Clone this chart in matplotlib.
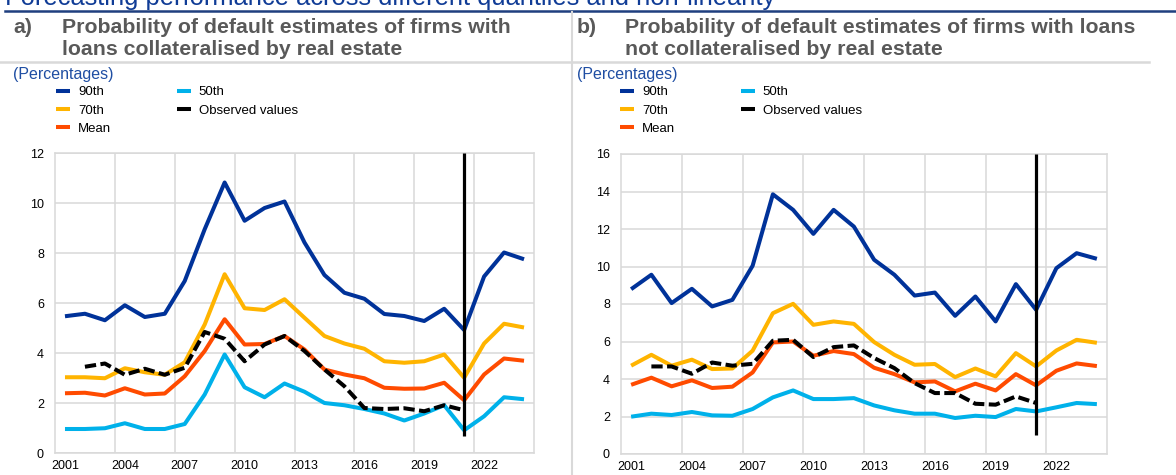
import numpy as np
import matplotlib
matplotlib.use('Agg')
import matplotlib.pyplot as plt
from matplotlib.lines import Line2D

plt.rcParams['font.family'] = ['Liberation Sans', 'DejaVu Sans']

# ================= data =================
years = list(range(2001, 2025))
obs_years = list(range(2002, 2022))
xtick_years = [2001, 2004, 2007, 2010, 2013, 2016, 2019, 2022]

# panel a: loans collateralised by real estate
p90_a = [5.47, 5.57, 5.31, 5.91, 5.44, 5.57, 6.88, 8.95, 10.82, 9.29, 9.80, 10.06,
         8.42, 7.12, 6.41, 6.17, 5.56, 5.48, 5.28, 5.77, 4.92, 7.06, 8.02, 7.75]
p70_a = [3.03, 3.03, 2.99, 3.39, 3.23, 3.13, 3.63, 5.14, 7.15, 5.79, 5.72, 6.15,
         5.41, 4.68, 4.38, 4.17, 3.67, 3.61, 3.67, 3.94, 3.01, 4.38, 5.17, 5.02]
mean_a = [2.39, 2.41, 2.30, 2.59, 2.34, 2.38, 3.07, 4.08, 5.35, 4.34, 4.36, 4.68,
          4.14, 3.34, 3.14, 2.99, 2.61, 2.57, 2.58, 2.81, 2.11, 3.14, 3.78, 3.69]
p50_a = [0.96, 0.96, 0.99, 1.19, 0.96, 0.96, 1.16, 2.34, 3.94, 2.63, 2.23, 2.78,
         2.45, 2.00, 1.91, 1.76, 1.58, 1.30, 1.58, 1.91, 0.91, 1.47, 2.23, 2.15]
obs_a = [3.45, 3.58, 3.13, 3.37, 3.13, 3.41, 4.84, 4.57, 3.67, 4.34, 4.68, 4.08,
         3.34, 2.67, 1.80, 1.76, 1.79, 1.67, 1.91, 1.71]

# panel b: loans not collateralised by real estate
p90_b = [8.79, 9.56, 8.05, 8.81, 7.87, 8.22, 10.04, 13.85, 13.02, 11.74, 13.02, 12.13,
         10.36, 9.56, 8.45, 8.61, 7.37, 8.40, 7.07, 9.06, 7.69, 9.91, 10.71, 10.41]
p70_b = [4.71, 5.29, 4.71, 5.03, 4.53, 4.56, 5.51, 7.51, 8.01, 6.89, 7.07, 6.94,
         5.97, 5.29, 4.76, 4.80, 4.10, 4.56, 4.14, 5.38, 4.67, 5.52, 6.09, 5.93]
mean_b = [3.69, 4.07, 3.61, 3.93, 3.52, 3.59, 4.35, 5.95, 6.00, 5.24, 5.49, 5.33,
          4.60, 4.26, 3.82, 3.87, 3.34, 3.75, 3.39, 4.26, 3.66, 4.44, 4.83, 4.69]
p50_b = [1.99, 2.15, 2.08, 2.24, 2.06, 2.04, 2.40, 3.02, 3.39, 2.93, 2.93, 2.98,
         2.59, 2.33, 2.15, 2.15, 1.92, 2.04, 1.97, 2.40, 2.27, 2.49, 2.72, 2.66]
obs_b = [4.67, 4.67, 4.28, 4.88, 4.71, 4.81, 6.04, 6.09, 5.17, 5.70, 5.79, 5.12,
         4.58, 3.78, 3.25, 3.25, 2.68, 2.63, 3.07, 2.72]

forecast_start = 2021
vline_bottom_a, vline_bottom_b = 0.7, 1.0

series_names = ['90th', '70th', 'Mean', '50th', 'Observed values']
colors = {'90th': '#003299', '70th': '#ffb400', 'Mean': '#ff4b00',
          '50th': '#00b1ea', 'Observed values': '#000000'}

main_title = 'Forecasting performance across different quantiles and non-linearity'
title_a = ['Probability of default estimates of firms with',
           'loans collateralised by real estate']
title_b = ['Probability of default estimates of firms with loans',
           'not collateralised by real estate']

# ================= figure =================
W, H = 1176, 475
fig = plt.figure(figsize=(W / 100, H / 100), dpi=100)


def fx(px):
    return px / W


def fy(py):
    return 1 - py / H


GRID = '#d9d9d9'
TITLE_GREY = '#595959'
BLUE_TXT = '#1f4ea3'


def draw_panel(rect, p90, p70, mean, p50, obs, ymax, vbottom):
    ax = fig.add_axes(rect)
    lw = 2.9
    kw = dict(lw=lw, solid_joinstyle='round', solid_capstyle='butt')
    ax.plot(years, p90, color=colors['90th'], **kw)
    ax.plot(years, p70, color=colors['70th'], **kw)
    ax.plot(years, mean, color=colors['Mean'], **kw)
    ax.plot(years, p50, color=colors['50th'], **kw)
    ax.plot(obs_years, obs, color='black', lw=lw, dashes=(2.8, 1.1),
            dash_joinstyle='round')
    ax.vlines(forecast_start, vbottom, ymax, color='black', lw=2.3, zorder=5)

    ax.set_xlim(2000.5, 2024.5)
    ax.set_ylim(0, ymax)
    ax.set_yticks(np.arange(0, ymax + 1, 2))
    ax.set_xticks(xtick_years)
    ax.set_xticks(np.arange(2003.5, 2024, 3), minor=True)
    ax.grid(False)
    ax.grid(True, axis='y', which='major', color=GRID, lw=1.1)
    ax.grid(True, axis='x', which='minor', color=GRID, lw=1.1)
    ax.tick_params(which='both', length=0, labelsize=9, colors='black')
    ax.tick_params(axis='y', pad=8)
    ax.tick_params(axis='x', pad=5)
    for s in ax.spines.values():
        s.set_color(GRID)
        s.set_linewidth(1.1)
    ax.set_axisbelow(True)
    return ax


ax_a = draw_panel([fx(55), 1 - 453 / H, fx(534 - 55), 300 / H],
                  p90_a, p70_a, mean_a, p50_a, obs_a, 12, vline_bottom_a)
ax_b = draw_panel([fx(621), 1 - 454 / H, fx(1107 - 621), 300 / H],
                  p90_b, p70_b, mean_b, p50_b, obs_b, 16, vline_bottom_b)

# ================= header decoration =================
fig.text(fx(5), fy(5), main_title, fontsize=18.4, color='#103c96', va='baseline')
fig.add_artist(Line2D([fx(5), 1], [fy(11), fy(11)], transform=fig.transFigure,
                      color='#1f3f7f', lw=1.8))
fig.add_artist(Line2D([0, fx(1149)], [fy(62), fy(62)], transform=fig.transFigure,
                      color=GRID, lw=1.8))
fig.add_artist(Line2D([fx(572), fx(572)], [fy(12), 0], transform=fig.transFigure,
                      color=GRID, lw=1.5))

for lab, x0, x1, lines in [('a)', 13, 62, title_a), ('b)', 577, 625, title_b)]:
    fig.text(fx(x0), fy(33), lab, fontsize=15.3, fontweight='bold',
             color=TITLE_GREY, va='baseline')
    fig.text(fx(x1), fy(33), lines[0], fontsize=15.3, fontweight='bold',
             color=TITLE_GREY, va='baseline')
    fig.text(fx(x1), fy(55), lines[1], fontsize=15.3, fontweight='bold',
             color=TITLE_GREY, va='baseline')
    fig.text(fx(x0), fy(75), '(Percentages)', fontsize=11.5, color=BLUE_TXT,
             va='center')

# legends
handles = [Line2D([], [], color=colors[n], lw=2.9, solid_capstyle='butt')
           for n in series_names]
for ax, x0 in [(ax_a, 56), (ax_b, 620)]:
    ax.legend(handles, series_names, loc='upper left',
              bbox_to_anchor=(fx(x0), fy(86)), bbox_transform=fig.transFigure,
              ncol=2, frameon=False, fontsize=9.5, handlelength=1.06,
              handletextpad=0.6, columnspacing=5.0, labelspacing=0.47,
              borderpad=0, borderaxespad=0)

fig.savefig('out.png', dpi=100)
